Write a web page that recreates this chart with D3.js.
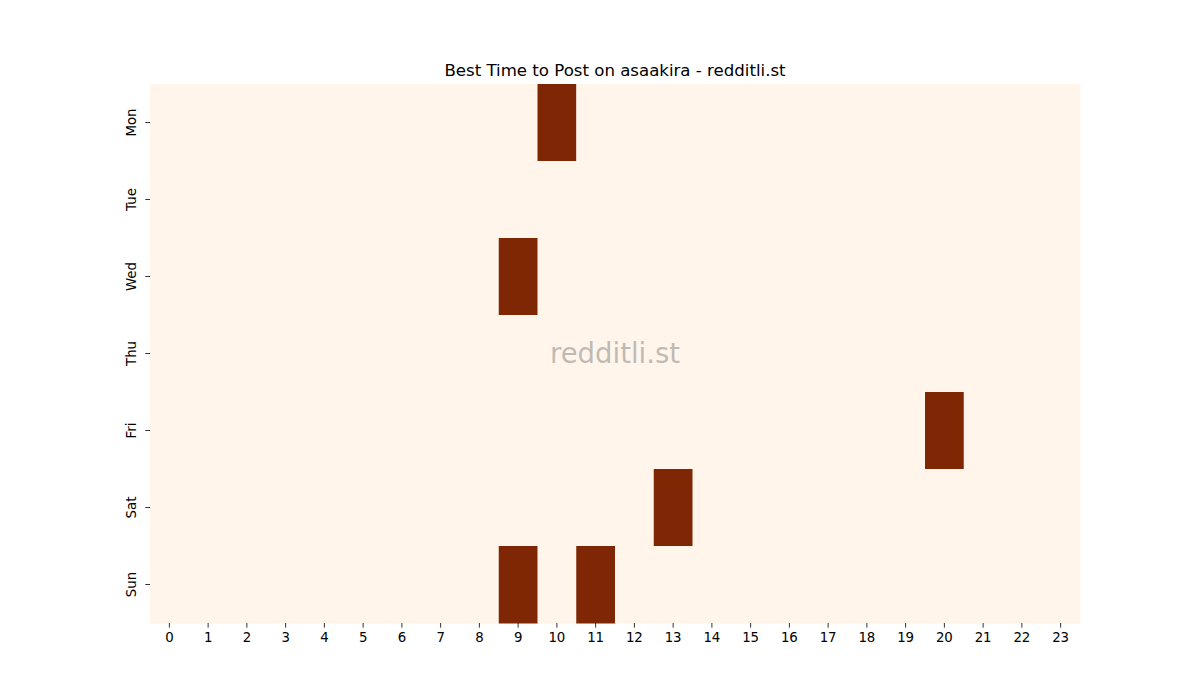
<!DOCTYPE html>
<html><head><meta charset="utf-8">
<script src="https://cdn.jsdelivr.net/npm/d3@7"></script>
<style>body{margin:0;background:#fff}svg{display:block}text{font-family:"DejaVu Sans",sans-serif}</style>
</head><body>
<svg id="c" width="1200" height="700"></svg>
<script>
const days = ["Mon","Tue","Wed","Thu","Fri","Sat","Sun"];
const hours = d3.range(0,24).map(String);
const activeCells = [["Mon","10"],["Wed","9"],["Fri","20"],["Sat","13"],["Sun","9"],["Sun","11"]];
const titleText = "Best Time to Post on asaakira - redditli.st";
const watermark = "redditli.st";

const cells = [];
days.forEach(d => hours.forEach(h => {
  cells.push({day:d, hour:h, value: activeCells.some(a => a[0]===d && a[1]===h) ? 1 : 0});
}));

const svg = d3.select("#c");
const L=150, R=1080, T=84, B=623;
const x = d3.scaleBand().domain(hours).range([L,R]);
const y = d3.scaleBand().domain(days).range([T,B]);
const color = d3.scaleLinear().domain([0,1]).range(["#fff5eb","#7f2704"]);

svg.append("g").selectAll("rect").data(cells).join("rect")
  .attr("x", d=>x(d.hour)).attr("y", d=>y(d.day))
  .attr("width", x.bandwidth()+0.5).attr("height", y.bandwidth()+0.5)
  .attr("fill", d=>color(d.value));

const xa = svg.append("g").attr("transform",`translate(0,${B})`)
  .call(d3.axisBottom(x).tickSize(4.67).tickPadding(4.67));
xa.select(".domain").remove();
xa.selectAll("line").attr("stroke","#000").attr("stroke-width",0.8);
xa.selectAll("text").attr("font-size","13.33px").attr("fill","#000").attr("font-family","DejaVu Sans");

const ya = svg.append("g").attr("transform",`translate(${L},0)`)
  .call(d3.axisLeft(y).tickSize(4.67).tickPadding(4.67));
ya.select(".domain").remove();
ya.selectAll("line").attr("stroke","#000").attr("stroke-width",0.8);
ya.selectAll("text").attr("font-size","13.33px").attr("fill","#000").attr("font-family","DejaVu Sans")
  .attr("transform","rotate(-90)").attr("x",0).attr("y",-14).attr("dy","0").attr("text-anchor","middle")
  .attr("dominant-baseline","auto");

svg.append("text").attr("x",(L+R)/2).attr("y",T-8).attr("text-anchor","middle")
  .attr("font-size","16.6px").attr("fill","#000").text(titleText);

svg.append("text").attr("x",(L+R)/2).attr("y",(T+B)/2+9).attr("text-anchor","middle")
  .attr("font-size","27.5px").attr("fill","#808080").attr("fill-opacity",0.5).text(watermark);
</script>
</body></html>
